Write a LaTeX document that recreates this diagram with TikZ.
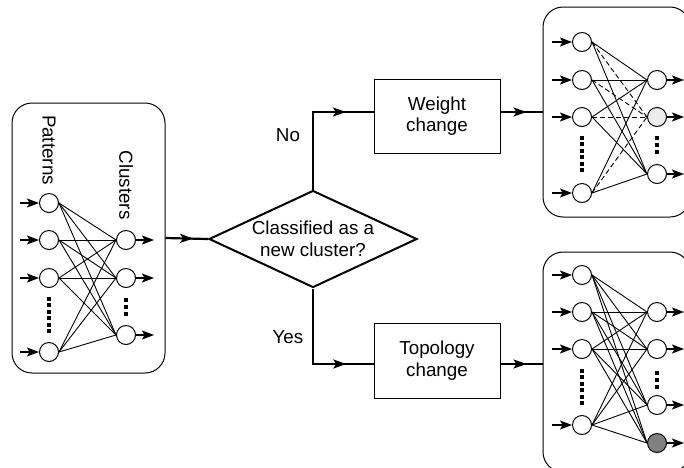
\documentclass[tikz,border=0pt]{standalone}
\usepackage{fontspec}
\setmainfont{Liberation Sans}
\usetikzlibrary{arrows.meta,shapes.geometric,decorations.markings}
\begin{document}
\begin{tikzpicture}[x=1pt,y=-1pt,
  font=\fontsize{18.8}{21.7}\selectfont,
  neuron/.style={circle,draw,line width=1pt,minimum size=19pt,inner sep=0pt,fill=white},
  conn/.style={line width=0.9pt},
  dconn/.style={line width=0.9pt,dash pattern=on 5pt off 3pt},
  inarrow/.style={line width=1.2pt,-{Stealth[length=12pt,width=9pt,inset=2.5pt]}},
  flow/.style={line width=2.2pt},
  flowarrow/.style={line width=2.2pt,postaction={decorate},
    decoration={markings,mark=at position #1 with {\arrow{Stealth[length=13pt,width=9pt,inset=3pt]}}}},
  flowarrow/.default=0.6,
  netbox/.style={draw,line width=1pt,rounded corners=20pt,inner sep=0pt},
  procbox/.style={draw,line width=1pt,minimum width=126pt,minimum height=74pt,align=center,inner sep=0pt},
  dotsline/.style={line width=4pt,dash pattern=on 4pt off 2.4pt},
  cdotsline/.style={line width=4pt,dash pattern=on 4pt off 3pt},
]
\useasboundingbox (0,0) rectangle (684,467);
\clip (0,0) rectangle (684,467);

% ---------- boxes ----------
\node[netbox,minimum width=153pt,minimum height=270pt] (lbox) at (88.5,238) {};
\node[netbox,minimum width=147pt,minimum height=210pt] (rtbox) at (616.5,112) {};
\node[netbox,minimum width=147pt,minimum height=220pt] (rbbox) at (616.5,362) {};

% ---------- left network ----------
\foreach \i/\y in {1/203,2/240,3/278,4/352}{
  \node[neuron] (p\i) at (49,\y) {};
  \coordinate (pa\i) at (20,\y);
  \draw[inarrow] (pa\i) -- (p\i.west);
}
\foreach \j/\y in {1/240,2/278,3/335}{
  \node[neuron] (c\j) at (126,\y) {};
  \coordinate (ca\j) at (154,\y);
  \draw[inarrow] (c\j.east) -- (ca\j);
}
\foreach \i in {1,...,4}{\foreach \j in {1,2,3}{\draw[conn] (p\i.east) -- (c\j.west);}}
\coordinate (pd1) at (49,297); \coordinate (pd2) at (49,333);
\draw[dotsline] (pd1) -- (pd2);
\coordinate (cd1) at (126,298); \coordinate (cd2) at (126,316);
\draw[cdotsline] (cd1) -- (cd2);
\node[rotate=-90] (patterns) at (49,150) {Patterns};
\node[rotate=-90] (clusters) at (126,185) {Clusters};

% ---------- top right network ----------
\foreach \i/\y in {1/42,2/80,3/117,4/193}{
  \node[neuron] (q\i) at (582,\y) {};
  \coordinate (qa\i) at (552,\y);
  \draw[inarrow] (qa\i) -- (q\i.west);
}
\node[neuron] (r1) at (657,80) {};
\node[neuron,fill=gray!15] (r2) at (657,117) {};
\node[neuron] (r3) at (657,174) {};
\foreach \j/\y in {1/80,2/117,3/174}{
  \coordinate (ra\j) at (684,\y);
  \draw[inarrow] (r\j.east) -- (ra\j);
}
\foreach \i in {1,...,4}{
  \draw[conn] (q\i.east) -- (r1.west);
  \draw[dconn] (q\i.east) -- (r2.west);
  \draw[conn] (q\i.east) -- (r3.west);
}
\coordinate (qd1) at (582,136); \coordinate (qd2) at (582,172);
\draw[dotsline] (qd1) -- (qd2);
\coordinate (rd1) at (657,136); \coordinate (rd2) at (657,154);
\draw[cdotsline] (rd1) -- (rd2);

% ---------- bottom right network ----------
\foreach \i/\y in {1/275,2/312,3/349,4/425}{
  \node[neuron] (s\i) at (582,\y) {};
  \coordinate (sa\i) at (552,\y);
  \draw[inarrow] (sa\i) -- (s\i.west);
}
\node[neuron] (t1) at (657,312) {};
\node[neuron] (t2) at (657,349) {};
\node[neuron] (t3) at (657,405) {};
\node[neuron,fill=gray] (t4) at (657,443) {};
\foreach \j/\y in {1/312,2/349,3/405,4/443}{
  \coordinate (ta\j) at (684,\y);
  \draw[inarrow] (t\j.east) -- (ta\j);
}
\foreach \i in {1,...,4}{\foreach \j in {1,...,4}{\draw[conn] (s\i.east) -- (t\j.west);}}
\coordinate (sd1) at (582,369); \coordinate (sd2) at (582,405);
\draw[dotsline] (sd1) -- (sd2);
\coordinate (td1) at (657,371); \coordinate (td2) at (657,389);
\draw[cdotsline] (td1) -- (td2);

% ---------- flowchart ----------
\node[draw,diamond,aspect=2.14,line width=2pt,minimum width=208pt,minimum height=97pt,
      inner sep=0pt,align=center] (dec) at (313,239) {Classified as a\\new cluster?};
\node[procbox] (w) at (437,116) {Weight\\change};
\node[procbox,minimum height=75pt] (t) at (437,360.5) {Topology\\change};
\coordinate (nocorner) at (313,112);
\coordinate (yescorner) at (313,364);

\draw[flowarrow=0.65] (lbox.east) -- (dec.west);
\draw[flowarrow=0.8] (dec.north) -- (nocorner) -- (w.west |- nocorner);
\draw[flowarrow=0.8] (dec.south) -- (yescorner) -- (t.west |- yescorner);
\draw[flowarrow=0.62] (w.east |- nocorner) -- (rtbox.west |- nocorner);
\draw[flowarrow=0.62] (t.east |- yescorner) -- (rbbox.west |- yescorner);

\node (no) at (288,135) {No};
\node (yes) at (288,337) {Yes};
\end{tikzpicture}
\end{document}
